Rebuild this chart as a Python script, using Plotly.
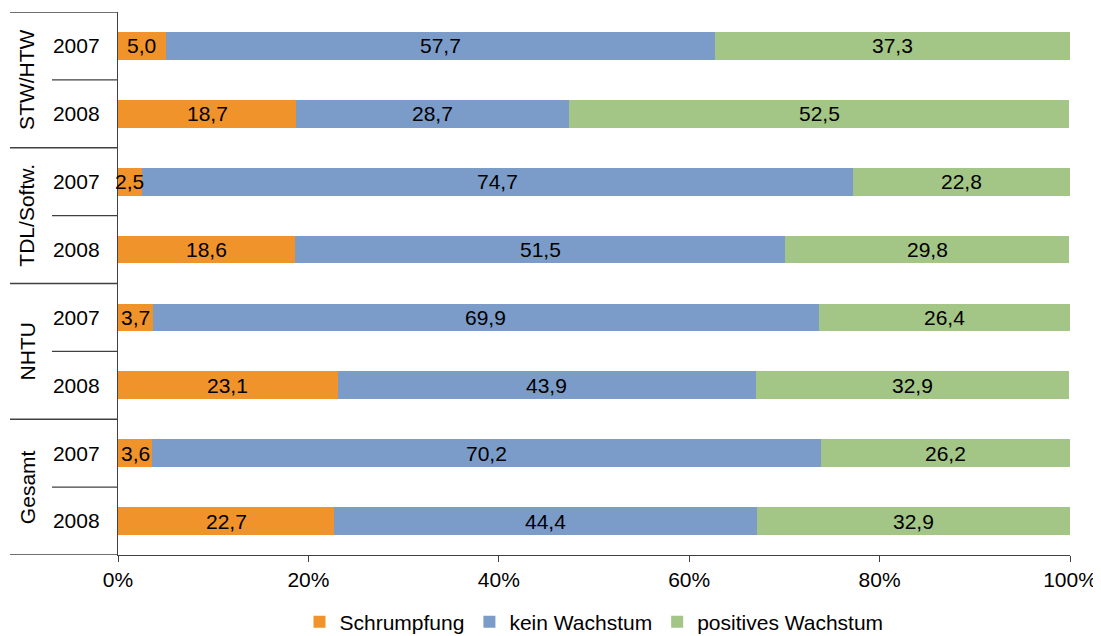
import plotly.graph_objects as go

groups = ["STW/HTW", "TDL/Softw.", "NHTU", "Gesamt"]
years = ["2007", "2008"]
series_names = ["Schrumpfung", "kein Wachstum", "positives Wachstum"]
schrumpfung = [5.0, 18.7, 2.5, 18.6, 3.7, 23.1, 3.6, 22.7]
kein_wachstum = [57.7, 28.7, 74.7, 51.5, 69.9, 43.9, 70.2, 44.4]
positives_wachstum = [37.3, 52.5, 22.8, 29.8, 26.4, 32.9, 26.2, 32.9]
x_ticks = [0, 20, 40, 60, 80, 100]

colors = ["#F0932B", "#7B9CC9", "#A3C586"]
FONT = "Liberation Sans, Arial, sans-serif"
FS = 21

# page offset of the figure (default body margin)
OFF = 8
FIG_W, FIG_H = 1093, 628
PLOT_L, PLOT_R, PLOT_T, PLOT_B = 118, 1070, 12, 555  # target page pixels

cats = [f"{g} {y}" for g in groups for y in years]
ticktext = [y for g in groups for y in years]

fig = go.Figure()
annotations = []
base = [0.0] * len(cats)
for name, vals, col in zip(series_names, [schrumpfung, kein_wachstum, positives_wachstum], colors):
    fig.add_trace(go.Bar(
        y=cats, x=vals, name=name, orientation="h",
        marker=dict(color=col, line=dict(width=0)),
        width=0.41,
        hoverinfo="skip",
    ))
    for i, v in enumerate(vals):
        annotations.append(dict(
            text=f"{v:.1f}".replace(".", ","), xref="x", yref="y",
            x=base[i] + v / 2, y=cats[i], showarrow=False,
            xanchor="center", yanchor="middle",
            font=dict(size=FS, color="#000000", family=FONT)))
        base[i] += v

W_PLOT = PLOT_R - PLOT_L
def px2paper(px):
    return (px - PLOT_L) / W_PLOT

shapes = []
line_col = "#404040"
for b in [-0.5, 1.5, 3.5, 5.5, 7.5]:
    shapes.append(dict(type="line", xref="paper", yref="y", x0=px2paper(10), x1=0,
                       y0=b, y1=b, line=dict(color=line_col, width=1.3)))
for b in [0.5, 2.5, 4.5, 6.5]:
    shapes.append(dict(type="line", xref="paper", yref="y", x0=px2paper(52), x1=0,
                       y0=b, y1=b, line=dict(color=line_col, width=1.3)))

for i, g in enumerate(groups):
    annotations.append(dict(text=g, xref="paper", yref="y", x=px2paper(27), y=2 * i + 0.5,
                            showarrow=False, textangle=-90, xanchor="center", yanchor="middle",
                            font=dict(size=FS, color="#000000", family=FONT)))

fig.update_layout(
    barmode="stack",
    width=FIG_W, height=FIG_H,
    margin=dict(l=PLOT_L - OFF, r=FIG_W + OFF - PLOT_R, t=PLOT_T - OFF,
                b=FIG_H + OFF - PLOT_B, autoexpand=False),
    plot_bgcolor="white", paper_bgcolor="white",
    font=dict(family=FONT, size=FS, color="#000000"),
    showlegend=True,
    legend=dict(orientation="h", x=0.5, xanchor="center", xref="paper",
                y=1 - (622 - OFF) / FIG_H, yanchor="middle", yref="container",
                font=dict(size=FS, family=FONT), itemwidth=30, traceorder="normal",
                tracegroupgap=0),
    xaxis=dict(range=[0, 100], tickvals=x_ticks, ticktext=[f"{t}%" for t in x_ticks],
               showgrid=False, zeroline=False, showline=True, linecolor=line_col, linewidth=1.3,
               ticks="outside", ticklen=6, tickcolor=line_col, tickwidth=1.3,
               tickfont=dict(size=FS), automargin=False),
    yaxis=dict(categoryorder="array", categoryarray=cats, range=[7.5, -0.5],
               tickvals=cats, ticktext=ticktext, showgrid=False, zeroline=False,
               showline=True, linecolor=line_col, linewidth=1.3, ticks="",
               ticklabelstandoff=13, tickfont=dict(size=FS), automargin=False),
    shapes=shapes,
    annotations=annotations,
)

fig.write_html("out.html")
